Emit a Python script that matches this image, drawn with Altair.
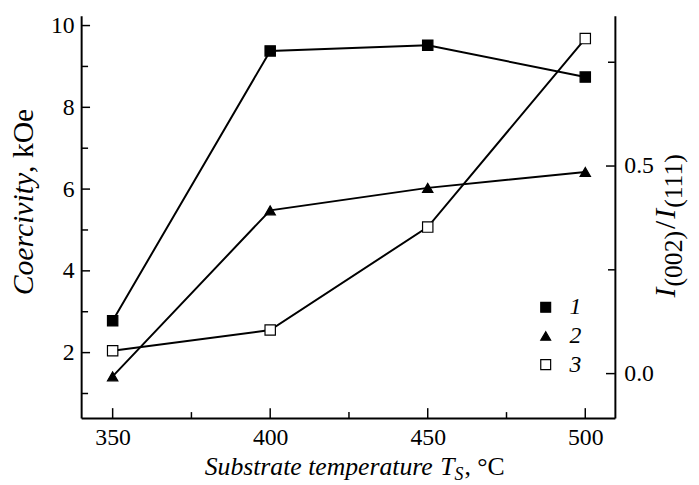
import altair as alt
import pandas as pd

# ---- data ----
temps = [350, 400, 450, 500]
coercivity_1 = [2.78, 9.38, 9.52, 8.74]
coercivity_2 = [1.42, 5.48, 6.03, 6.42]
ratio_3 = [0.055, 0.105, 0.353, 0.807]
series_names = ["1", "2", "3"]
x_labels = [350, 400, 450, 500]
x_minor = [375, 425, 475]
left_major = [2, 4, 6, 8, 10]
left_minor = [1, 3, 5, 7, 9]
right_major = [0.0, 0.5]
right_minor = [0.25, 0.75]

W, H = 540, 407
FONT = "Liberation Serif"
PAD = {"left": 74, "top": 5, "right": 77, "bottom": 72}

left_df = pd.DataFrame({
    "T": temps * 2,
    "v": coercivity_1 + coercivity_2,
    "s": [series_names[0]] * 4 + [series_names[1]] * 4,
})
right_df = pd.DataFrame({"T": temps, "v": ratio_3, "s": [series_names[2]] * 4})

xscale = alt.Scale(domain=[340, 509.4], nice=False, zero=False)
xaxis = alt.Axis(values=x_labels, ticks=False, grid=False, title=None, format="d",
                 labelFont=FONT, labelFontSize=24, labelColor="black",
                 domainColor="black", domainWidth=2, labelPadding=8)
yl_scale = alt.Scale(domain=[0.4, 10.24], nice=False, zero=False)
yl_axis = alt.Axis(values=left_major, ticks=False, grid=False, title=None, format="d",
                   orient="left", labelFont=FONT, labelFontSize=24, labelColor="black",
                   domainColor="black", domainWidth=2, labelPadding=7)
yr_scale = alt.Scale(domain=[-0.107, 0.862], nice=False, zero=False)
yr_axis = alt.Axis(values=right_major, ticks=False, grid=False, title=None, format=".1f",
                   orient="right", labelFont=FONT, labelFontSize=24, labelColor="black",
                   domainColor="black", domainWidth=2, labelPadding=9)

shape_scale = alt.Scale(domain=series_names, range=["square", "triangle-up", "square"])
fill_scale = alt.Scale(domain=series_names, range=["black", "black", "white"])
stroke_scale = alt.Scale(domain=series_names, range=["black", "black", "black"])
legend = alt.Legend(title=None, orient="none", legendX=458, legendY=283, padding=0,
                    labelFont=FONT, labelFontSize=24, labelFontStyle="italic",
                    labelColor="black", symbolSize=100, symbolStrokeColor="black",
                    symbolStrokeWidth=1.2, rowPadding=5, labelOffset=12)

X = alt.X("T:Q", scale=xscale, axis=xaxis)


def series_layers(df, yscale, yaxis):
    Y = alt.Y("v:Q", scale=yscale, axis=yaxis)
    base = alt.Chart(df)
    line = base.mark_line(color="black", strokeWidth=2).encode(x=X, y=Y, detail="s:N")
    pts = base.mark_point(filled=False, strokeWidth=1.2, opacity=1, size=110).encode(
        x=X, y=Y,
        shape=alt.Shape("s:N", scale=shape_scale, legend=legend),
        fill=alt.Fill("s:N", scale=fill_scale, legend=legend),
        stroke=alt.Stroke("s:N", scale=stroke_scale, legend=legend),
    )
    return line, pts


def hticks(values, yscale, yaxis, x0, x1):
    df = pd.DataFrame({"v": values})
    return alt.Chart(df).mark_rule(color="black", strokeWidth=1.5).encode(
        y=alt.Y("v:Q", scale=yscale, axis=yaxis), x=alt.value(x0), x2=alt.value(x1))


def vticks(values, length):
    df = pd.DataFrame({"T": values})
    return alt.Chart(df).mark_rule(color="black", strokeWidth=1.5).encode(
        x=X, y=alt.value(H - length), y2=alt.value(H))


l_line, l_pts = series_layers(left_df, yl_scale, yl_axis)
left_group = alt.layer(
    l_line, l_pts,
    hticks(left_major, yl_scale, yl_axis, 0, 9),
    hticks(left_minor, yl_scale, yl_axis, 0, 7),
    vticks(x_labels, 10),
    vticks(x_minor, 6),
)
r_line, r_pts = series_layers(right_df, yr_scale, yr_axis)
right_group = alt.layer(
    r_line, r_pts,
    hticks(right_major, yr_scale, yr_axis, W - 9, W),
    hticks(right_minor, yr_scale, yr_axis, W - 7, W),
)


def txt(text, x, y, size, style="normal", angle=0, align="left", baseline="alphabetic"):
    return alt.Chart(pd.DataFrame({"t": [text]})).mark_text(
        font=FONT, fontSize=size, fontStyle=style, angle=angle, align=align,
        baseline=baseline, color="black",
    ).encode(text="t:N", x=alt.value(x), y=alt.value(y))


# plot-area origin on the page: (82, 13)
OX, OY = 82, 13
texts = []
# x title: "Substrate temperature T_S, °C"
xs = 207 - OX
yb = 478 - OY
fs = 26
texts.append(txt("Substrate temperature ", xs, yb, fs, "italic"))
xs += 9.166 * fs
texts.append(txt("T", xs, yb, fs, "italic"))
xs += 0.556 * fs
texts.append(txt("S", xs, yb + 5, 18, "italic"))
xs += 0.5 * 18 + 1
texts.append(txt(", °C", xs, yb, fs))

# left title: "Coercivity, kOe" (rotated)
fy = 30
ly0 = 297 - 4.166 * fy - OY
texts.append(txt("Coercivity", 33 - OX, ly0, fy, "italic", angle=270, align="right"))
texts.append(txt(", kOe", 33 - OX, ly0, fy, angle=270, align="left"))

# right title: "I(002)/I(111)" (rotated)
fm, fsub = 30, 26
bx = 683 - OX
ry = 298 - OY
texts.append(txt("I", bx, ry, fm, "italic", angle=270))
ry -= 0.333 * fm + 1
texts.append(txt("(002)", bx + 7, ry, fsub, angle=270))
ry -= 2.166 * fsub + 2
texts.append(txt("/", bx, ry, fm, angle=270))
ry -= 0.278 * fm + 2
texts.append(txt("I", bx, ry, fm, "italic", angle=270))
ry -= 0.333 * fm + 1
texts.append(txt("(111)", bx + 7, ry, fsub, angle=270))

chart = alt.layer(left_group, right_group, *texts).resolve_scale(y="independent").properties(
    width=W, height=H,
    autosize=alt.AutoSizeParams(type="none"),
    padding=PAD,
    background="white",
).configure_view(stroke=None).configure_axis(labelFont=FONT).configure_legend(labelFont=FONT)

chart.save("out.html", embed_options={"renderer": "svg", "actions": False})
